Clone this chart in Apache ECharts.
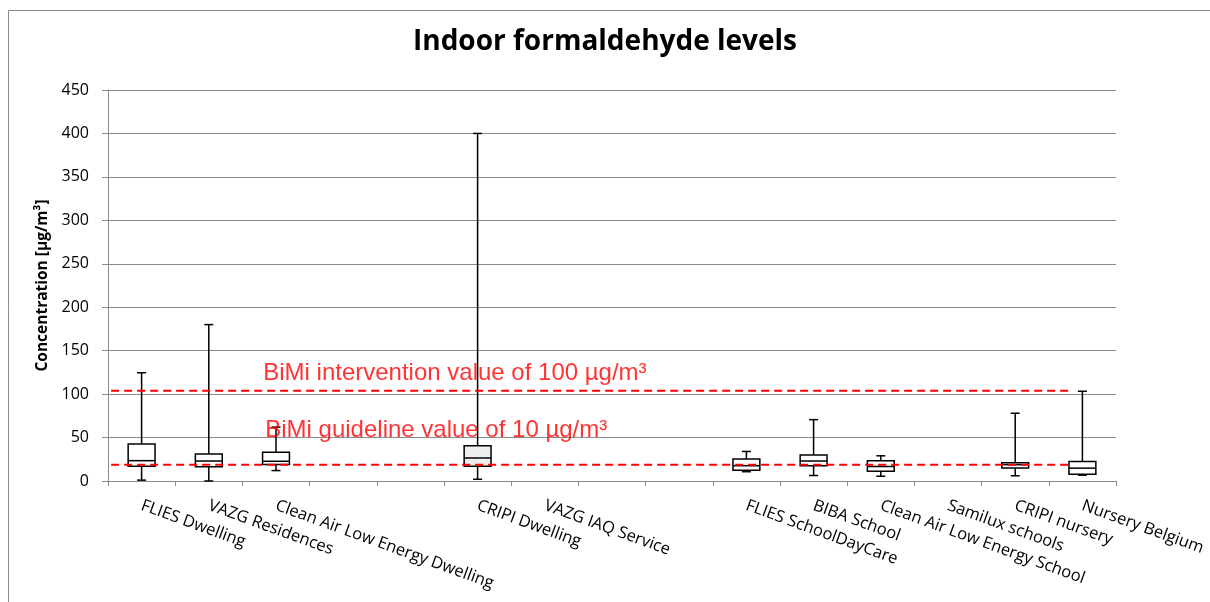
<!DOCTYPE html>
<html>
<head>
<meta charset="utf-8">
<script src="https://cdn.jsdelivr.net/npm/echarts@6/dist/echarts.min.js"></script>
<style>html,body{margin:0;padding:0;background:#fff;}#chart{width:1210px;height:602px;}</style>
</head>
<body>
<div id="chart"></div>
<script>
// ---- data ----
const categories = ['FLIES Dwelling', 'VAZG Residences', 'Clean Air Low Energy Dwelling', '', '',
  'CRIPI Dwelling', 'VAZG IAQ Service', '', '', 'FLIES SchoolDayCare', 'BIBA School',
  'Clean Air Low Energy School', 'Samilux schools', 'CRIPI nursery', 'Nursery Belgium'];
const minValues    = [1,     0,    12,   null, null, 2,    null, null, null, 10.7, 6.3,  5.5,  null, 6,    6.7];
const q1Values     = [17,    16.5, 19,   null, null, 17,   null, null, null, 12.3, 17.5, 11.3, null, 15,   7.7];
const medianValues = [23.4,  23,   22.7, null, null, 26.5, null, null, null, 17.6, 23,   16.7, null, 18.8, 14.8];
const q3Values     = [42.6,  31,   33,   null, null, 40.6, null, null, null, 25.3, 30,   23.4, null, 21,   22.5];
const maxValues    = [124.6, 180,  62,   null, null, 400,  null, null, null, 34,   70.6, 29,   null, 78,   103.3];
const yTicks = [0, 50, 100, 150, 200, 250, 300, 350, 400, 450];
// reference lines: [xStart, xEnd] in category-width units, y value
const interventionLine = [[-0.34, 104], [14.31, 104]];
const guidelineLine    = [[-0.34, 18.6], [14.31, 18.6]];
const annotations = [
  [2.31, 123.5, 'BiMi intervention value of 100 µg/m³'],
  [2.34, 58,    'BiMi guideline value of 10 µg/m³']
];

const boxData = [];
categories.forEach((c, i) => {
  if (minValues[i] !== null) {
    boxData.push([i, minValues[i], q1Values[i], medianValues[i], q3Values[i], maxValues[i]]);
  }
});

const chart = echarts.init(document.getElementById('chart'), null, {renderer: 'canvas'});
const gridColor = '#8a8a8a';

chart.setOption({
  animation: false,
  backgroundColor: '#ffffff',
  title: {
    text: 'Indoor formaldehyde levels',
    left: 'center',
    top: 23,
    textStyle: {fontFamily: 'Open Sans', fontWeight: 'bold', fontSize: 28, color: '#000'}
  },
  graphic: [{
    type: 'rect', silent: true, z: 0,
    shape: {x: 8.5, y: 10.5, width: 1400, height: 800},
    style: {fill: 'none', stroke: '#8c8c8c', lineWidth: 1}
  }],
  grid: {left: 108, right: 94, top: 90, bottom: 121},
  xAxis: [{
    type: 'category',
    data: categories,
    boundaryGap: true,
    axisLine: {show: true, lineStyle: {color: gridColor, width: 1}},
    axisTick: {show: true, interval: 0, length: 5, lineStyle: {color: gridColor}},
    axisLabel: {interval: 0, rotate: -20, margin: 24, color: '#000', fontFamily: 'Open Sans', fontSize: 16.5},
    splitLine: {show: false}
  }, {
    type: 'value', min: 0, max: 15, show: false
  }],
  yAxis: {
    type: 'value',
    min: 0, max: 450, interval: 50,
    name: 'Concentration [µg/m³]',
    nameLocation: 'middle',
    nameGap: 54,
    nameTextStyle: {fontFamily: 'Open Sans', fontWeight: 'bold', fontSize: 15.5, color: '#000'},
    axisLine: {show: true, lineStyle: {color: gridColor, width: 1}},
    axisTick: {show: true, length: 6, lineStyle: {color: gridColor}},
    axisLabel: {color: '#000', fontFamily: 'Open Sans', fontSize: 16, margin: 19,
      formatter: v => yTicks.includes(v) ? String(v) : ''},
    splitLine: {show: true, lineStyle: {color: gridColor, width: 1}}
  },
  series: [{
    type: 'custom',
    xAxisIndex: 0,
    data: boxData,
    encode: {x: 0, y: [1, 2, 3, 4, 5]},
    z: 3,
    renderItem: function (params, api) {
      const idx = api.value(0);
      const pMin = api.coord([idx, api.value(1)]);
      const pQ1 = api.coord([idx, api.value(2)]);
      const pMed = api.coord([idx, api.value(3)]);
      const pQ3 = api.coord([idx, api.value(4)]);
      const pMax = api.coord([idx, api.value(5)]);
      const bw = api.size([1, 0])[0] * 0.4;
      const cw = 9;
      const x = pMed[0];
      const fill = categories[idx] === 'CRIPI Dwelling' ? '#efefef' : '#ffffff';
      const st = {stroke: '#000', lineWidth: 1.5, fill: 'none'};
      return {
        type: 'group',
        children: [
          {type: 'line', shape: {x1: x, y1: pMax[1], x2: x, y2: pQ3[1]}, style: st},
          {type: 'line', shape: {x1: x, y1: pQ1[1], x2: x, y2: pMin[1]}, style: st},
          {type: 'line', shape: {x1: x - cw / 2, y1: pMax[1], x2: x + cw / 2, y2: pMax[1]}, style: st},
          {type: 'line', shape: {x1: x - cw / 2, y1: pMin[1], x2: x + cw / 2, y2: pMin[1]}, style: st},
          {type: 'rect', shape: {x: x - bw / 2, y: pQ3[1], width: bw, height: pQ1[1] - pQ3[1]},
            style: {stroke: '#000', lineWidth: 1.5, fill: fill}},
          {type: 'line', shape: {x1: x - bw / 2, y1: pMed[1], x2: x + bw / 2, y2: pMed[1]}, style: st}
        ]
      };
    }
  }, {
    type: 'line',
    xAxisIndex: 1,
    data: interventionLine,
    clip: false,
    symbol: 'none',
    z: 4,
    lineStyle: {color: '#ff0000', width: 2, type: [8, 5]}
  }, {
    type: 'line',
    xAxisIndex: 1,
    data: guidelineLine,
    clip: false,
    symbol: 'none',
    z: 4,
    lineStyle: {color: '#ff0000', width: 2, type: [8, 5]}
  }, {
    type: 'scatter',
    xAxisIndex: 1,
    data: annotations,
    symbolSize: 0,
    z: 5,
    label: {
      show: true, position: 'right', distance: 0,
      formatter: p => p.data[2],
      color: '#ff0000', fontFamily: 'Liberation Sans', fontSize: 24
    }
  }]
});
</script>
</body>
</html>
